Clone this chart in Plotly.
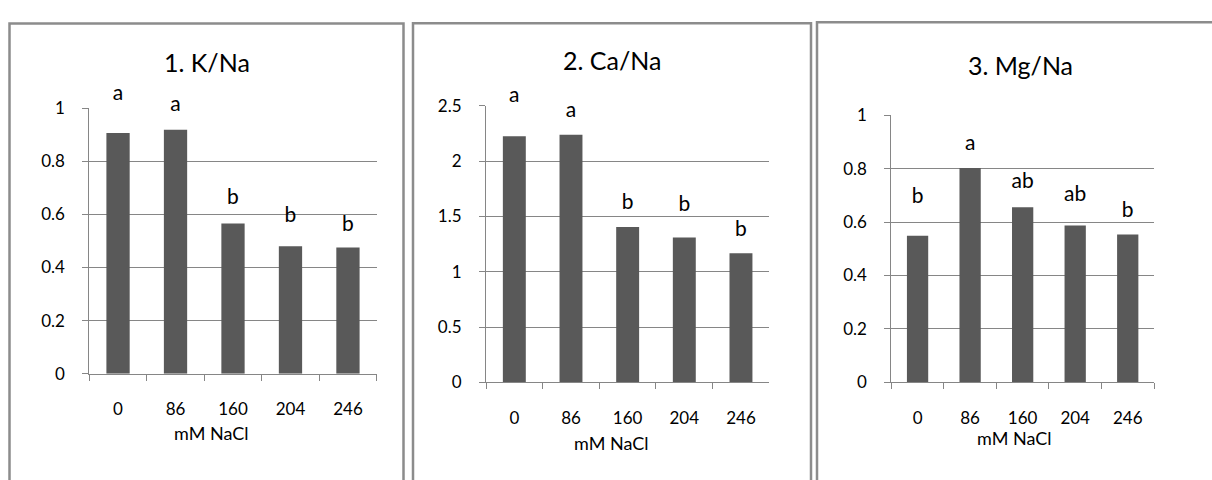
import plotly.graph_objects as go

# ---------------- data ----------------
categories = ["0", "86", "160", "204", "246"]

k_na = [0.907, 0.919, 0.566, 0.480, 0.475]
ca_na = [2.226, 2.240, 1.404, 1.311, 1.168]
mg_na = [0.549, 0.802, 0.655, 0.587, 0.553]

k_letters = ["a", "a", "b", "b", "b"]
ca_letters = ["a", "a", "b", "b", "b"]
mg_letters = ["b", "a", "ab", "ab", "b"]

titles = ["1. K/Na", "2. Ca/Na", "3. Mg/Na"]
x_title = "mM NaCl"

k_ticks = [0, 0.2, 0.4, 0.6, 0.8, 1]
k_ticktext = ["0", "0.2", "0.4", "0.6", "0.8", "1"]
ca_ticks = [0, 0.5, 1, 1.5, 2, 2.5]
ca_ticktext = ["0", "0.5", "1", "1.5", "2", "2.5"]
mg_ticks = [0, 0.2, 0.4, 0.6, 0.8, 1]
mg_ticktext = ["0", "0.2", "0.4", "0.6", "0.8", "1"]

# letter label heights (data units)
k_label_y = [1.049, 1.009, 0.658, 0.592, 0.556]
ca_label_y = [2.584, 2.448, 1.614, 1.594, 1.375]
mg_label_y = [0.692, 0.889, 0.746, 0.700, 0.638]

# ---------------- layout helpers ----------------
W, H = 1212, 480
FONT = "Lato"
BAR = "#595959"
GRID = "#868686"
FRAME = "#8c8c8c"
EXTRA = 60  # px of headroom for the letter overlay axes


def px(x):
    return x / W


def py(y):
    return 1 - y / H


panels = [
    dict(vals=k_na, letters=k_letters, ly=k_label_y, ticks=k_ticks, ticktext=k_ticktext,
         yr=[0, 1], xd=(89.3, 376.7), yd=(379.3, 101.7),
         frame=(9.5, 403.5, 13.0), title_xy=(206.5, 53), xt_xy=(211, 441.7)),
    dict(vals=ca_na, letters=ca_letters, ly=ca_label_y, ticks=ca_ticks, ticktext=ca_ticktext,
         yr=[0, 2.5], xd=(486.0, 769.3), yd=(388.3, 99.3),
         frame=(413.0, 811.0, 12.8), title_xy=(612, 51.7), xt_xy=(611, 451.7)),
    dict(vals=mg_na, letters=mg_letters, ly=mg_label_y, ticks=mg_ticks, ticktext=mg_ticktext,
         yr=[0, 1], xd=(891.3, 1154.0), yd=(388.3, 109.0),
         frame=(817.0, 1240.0, 11.7), title_xy=(1020, 56.7), xt_xy=(1014, 446.7)),
]

fig = go.Figure()
shapes = []
annotations = []

for i, p in enumerate(panels):
    n = "" if i == 0 else str(i + 1)
    on = str(i + 4)  # overlay axis for letters
    fig.add_trace(go.Bar(
        x=categories, y=p["vals"], marker=dict(color=BAR, line=dict(width=0)),
        xaxis="x" + n, yaxis="y" + n, showlegend=False, hoverinfo="skip",
    ))
    # significance letters above bars (same scale, taller domain so nothing is hidden)
    fig.add_trace(go.Scatter(
        x=categories, y=p["ly"], text=p["letters"], mode="text",
        textposition="middle center", cliponaxis=False,
        textfont=dict(family=FONT, size=21, color="#000"),
        xaxis="x" + n, yaxis="y" + on, showlegend=False, hoverinfo="skip",
    ))
    h = p["yd"][0] - p["yd"][1]
    fig.update_layout(**{
        "xaxis" + n: dict(
            domain=[px(p["xd"][0]), px(p["xd"][1])], anchor="y" + n,
            type="category", categoryorder="array", categoryarray=categories,
            range=[-0.5, len(categories) - 0.5], autorange=False,
            tickson="boundaries", ticks="outside", ticklen=6,
            tickcolor=GRID, tickwidth=1, showline=True, linecolor=GRID, linewidth=1,
            showgrid=False, zeroline=False, ticklabelstandoff=20, tickangle=0,
            tickfont=dict(family=FONT, size=17, color="#000"), fixedrange=True,
        ),
        "yaxis" + n: dict(
            domain=[py(p["yd"][0]), py(p["yd"][1])], anchor="x" + n,
            range=p["yr"], autorange=False, tickvals=p["ticks"], ticktext=p["ticktext"],
            ticks="outside", ticklen=6, tickcolor=GRID, tickwidth=1,
            showline=True, linecolor=GRID, linewidth=1,
            showgrid=True, gridcolor=GRID, gridwidth=1, zeroline=False,
            ticklabelstandoff=14,
            tickfont=dict(family=FONT, size=17, color="#000"), fixedrange=True,
        ),
        "yaxis" + on: dict(
            domain=[py(p["yd"][0]), py(p["yd"][1] - EXTRA)], anchor="x" + n,
            range=[p["yr"][0], p["yr"][1] * (h + EXTRA) / h], autorange=False,
            visible=False, showgrid=False, zeroline=False, fixedrange=True,
        ),
    })
    # panel title
    annotations.append(dict(
        x=px(p["title_xy"][0]), y=py(p["title_xy"][1]), xref="paper", yref="paper",
        text=titles[i], showarrow=False, xanchor="center", yanchor="middle",
        font=dict(family=FONT, size=25, color="#000"),
    ))
    # x-axis title
    annotations.append(dict(
        x=px(p["xt_xy"][0]), y=py(p["xt_xy"][1]), xref="paper", yref="paper",
        text=x_title, showarrow=False, xanchor="center", yanchor="middle",
        font=dict(family=FONT, size=18, color="#000"),
    ))
    # frame (left, top, right edges)
    x0, x1, y0 = p["frame"]
    shapes.append(dict(type="rect", xref="paper", yref="paper",
                       x0=px(x0), x1=px(x1), y0=py(y0), y1=py(H + 20),
                       line=dict(color=FRAME, width=2.5), fillcolor="rgba(0,0,0,0)"))

fig.update_layout(
    width=W, height=H, margin=dict(l=0, r=0, t=0, b=0),
    paper_bgcolor="white", plot_bgcolor="rgba(0,0,0,0)",
    bargap=0.595, shapes=shapes, annotations=annotations,
    font=dict(family=FONT, color="#000"),
)

fig.write_html(
    "out.html",
    config={"displayModeBar": False},
    post_script="document.body.style.margin='0';document.body.style.overflow='hidden';",
)
